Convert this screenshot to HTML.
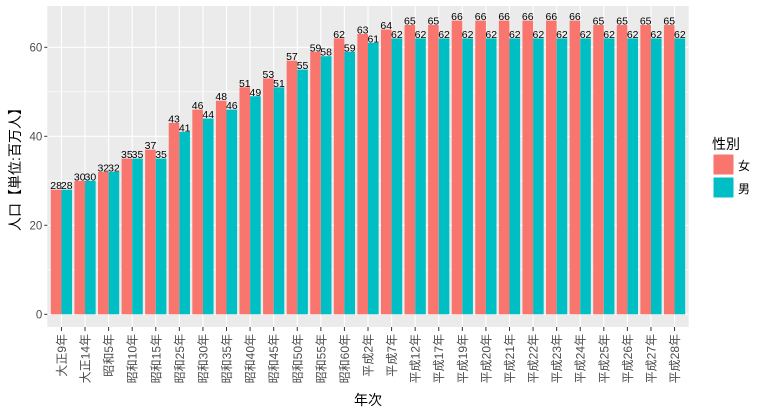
<!DOCTYPE html>
<html><head><meta charset="utf-8"><style>
html,body{margin:0;padding:0;background:#fff;}
svg{display:block;font-family:"Liberation Sans","Noto Sans CJK JP",sans-serif;}
</style></head><body>
<svg id="s" width="777" height="412" xmlns="http://www.w3.org/2000/svg"></svg>
<script>
const cats=["大正9年","大正14年","昭和5年","昭和10年","昭和15年","昭和25年","昭和30年","昭和35年","昭和40年","昭和45年","昭和50年","昭和55年","昭和60年","平成2年","平成7年","平成12年","平成17年","平成19年","平成20年","平成21年","平成22年","平成23年","平成24年","平成25年","平成26年","平成27年","平成28年"];
const f=[28,30,32,35,37,43,46,48,51,53,57,59,62,63,64,65,65,66,66,66,66,66,66,65,65,65,65];
const m=[28,30,32,35,35,41,44,46,49,51,55,58,59,61,62,62,62,62,62,62,62,62,62,62,62,62,62];
const L=47.3,R=688.7,T=6,B=327,y0=314.3,k=4.45;
const sp=(R-L)/27.2;
let h=`<rect x="${L}" y="${T}" width="${R-L}" height="${B-T}" fill="#EBEBEB"/>`;
const Y=v=>y0-v*k;
[10,30,50].forEach(v=>h+=`<line x1="${L}" x2="${R}" y1="${Y(v)}" y2="${Y(v)}" stroke="#fff" stroke-width="0.6"/>`);
[0,20,40,60].forEach(v=>{h+=`<line x1="${L}" x2="${R}" y1="${Y(v)}" y2="${Y(v)}" stroke="#fff" stroke-width="1.1"/>`;
h+=`<line x1="${L-3}" x2="${L}" y1="${Y(v)}" y2="${Y(v)}" stroke="#333" stroke-width="1"/>`;
h+=`<text x="${L-5}" y="${Y(v)+4}" text-anchor="end" font-size="11.5" fill="#4d4d4d">${v}</text>`;});
cats.forEach((c,i)=>{const x=L+0.6*sp+i*sp;
h+=`<line x1="${x}" x2="${x}" y1="${T}" y2="${B}" stroke="#fff" stroke-width="1.1"/>`;
h+=`<line x1="${x}" x2="${x}" y1="${B}" y2="${B+4}" stroke="#333" stroke-width="1"/>`;
h+=`<text transform="translate(${x+4.5},${B+7}) rotate(-90)" text-anchor="end" font-size="12" fill="#4d4d4d">${c}</text>`;});
cats.forEach((c,i)=>{const x=L+0.6*sp+i*sp,w=0.45*sp;
h+=`<rect x="${x-w}" y="${Y(f[i])}" width="${w}" height="${f[i]*k}" fill="#F8766D"/>`;
h+=`<rect x="${x}" y="${Y(m[i])}" width="${w}" height="${m[i]*k}" fill="#00BFC4"/>`;
h+=`<text x="${x-w/2}" y="${Y(f[i])-0.5}" text-anchor="middle" font-size="10.5" fill="#000">${f[i]}</text>`;
h+=`<text x="${x+w/2}" y="${Y(m[i])-0.5}" text-anchor="middle" font-size="10.5" fill="#000">${m[i]}</text>`;});
h+=`<text x="368" y="405" text-anchor="middle" font-size="14" fill="#000">年次</text>`;
h+=`<text transform="translate(20,166) rotate(-90)" text-anchor="middle" font-size="14" fill="#000">人口【単位:百万人】</text>`;
h+=`<text x="712" y="149" font-size="14" fill="#000">性別</text>`;
h+=`<rect x="713" y="154" width="21" height="21" fill="#F8766D" stroke="#fff"/>`;
h+=`<rect x="713" y="177" width="21" height="21" fill="#00BFC4" stroke="#fff"/>`;
h+=`<text x="738" y="170" font-size="12" fill="#000">女</text>`;
h+=`<text x="738" y="193" font-size="12" fill="#000">男</text>`;
document.getElementById('s').innerHTML=h;
</script>
</body></html>
